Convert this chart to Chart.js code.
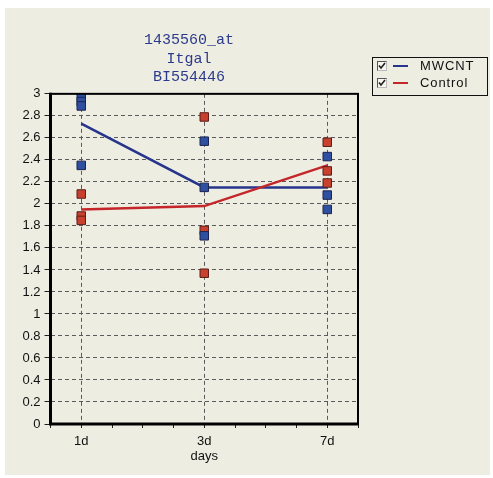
<!DOCTYPE html>
<html>
<head>
<meta charset="utf-8">
<script src="https://cdn.jsdelivr.net/npm/chart.js@4.4.1/dist/chart.umd.min.js"></script>
<style>
  body { margin: 0; background: #fff; width: 493px; height: 478px; position: relative; overflow: hidden; }
  #frame { position: absolute; left: 5px; top: 8px; width: 485px; height: 467px; background: #eeede1; }
  #legend { position: absolute; left: 367px; top: 49px; width: 114px; height: 37px; border: 1px solid #111;
            font: 13px 'Liberation Sans', Arial, sans-serif; color: #111; }
  .row { position: absolute; left: 0; height: 16px; width: 114px; }
  .box { position: absolute; left: 4px; top: 3px; width: 8px; height: 8px; background: #f6f6f0;
         border-left: 1px solid #555; border-top: 1px solid #555; border-right: 1px solid #bbb; border-bottom: 1px solid #bbb; }
  .box svg { position: absolute; left: 0; top: 0; }
  .swatch { position: absolute; left: 20px; top: 7px; width: 15px; height: 2px; }
  .label { position: absolute; left: 47px; top: 0; line-height: 16px; letter-spacing: 0.9px; }
</style>
</head>
<body>
<div id="frame">
  <canvas id="myChart" width="485" height="467"></canvas>
  <div id="legend"></div>
</div>
<script>
// categories on the x axis
var categories = ['1d', '3d', '7d'];
var seriesNames = ['MWCNT', 'Control'];
// individual replicate values per category
var mwcntPoints = [[2.97, 2.93, 2.89, 2.35], [2.57, 2.15, 1.71], [2.43, 2.08, 1.95]];
var controlPoints = [[2.09, 1.89, 1.85], [2.79, 1.76, 1.37], [2.56, 2.30, 2.19]];
// mean lines as drawn
var mwcntMean = [2.73, 2.15, 2.15];
var controlMean = [1.95, 1.98, 2.35];

var blue = '#26348c';
var red = '#c4262a';

function toXY(groups) {
  var out = [];
  groups.forEach(function (g, i) { g.forEach(function (v) { out.push({ x: i, y: v }); }); });
  return out;
}
function meanXY(arr) {
  return arr.map(function (v, i) { return { x: i, y: v }; });
}
function isWhole(v) { return Math.abs(v - Math.round(v)) < 1e-6; }

// legend as html, with the little checkboxes of the original
var legend = document.getElementById('legend');
[[seriesNames[0], blue], [seriesNames[1], red]].forEach(function (s, i) {
  var row = document.createElement('div');
  row.className = 'row';
  row.style.top = (i * 17) + 'px';
  row.innerHTML = '<div class="box"><svg width="8" height="8"><polyline points="1,3.5 3,6 7,1" fill="none" stroke="#222" stroke-width="1.6"/></svg></div>' +
    '<div class="swatch" style="background:' + s[1] + '"></div><div class="label">' + s[0] + '</div>';
  legend.appendChild(row);
});

var frameBorder = {
  id: 'frameBorder',
  afterDatasetsDraw: function (chart) {
    var a = chart.chartArea, ctx = chart.ctx;
    ctx.save();
    ctx.strokeStyle = '#000';
    ctx.lineWidth = 2;
    ctx.strokeRect(a.left, a.top, a.right - a.left, a.bottom - a.top);
    ctx.lineWidth = 3;
    ctx.beginPath();
    ctx.moveTo(a.left, a.top - 1);
    ctx.lineTo(a.left, a.bottom);
    ctx.lineTo(a.right + 1, a.bottom);
    ctx.stroke();
    ctx.restore();
  }
};

var ctx = document.getElementById('myChart').getContext('2d');
var myChart = new Chart(ctx, {
  type: 'scatter',
  data: {
    datasets: [
      { label: 'MWCNT pts', data: toXY(mwcntPoints), pointStyle: 'rect', pointRadius: 6,
        backgroundColor: '#2f4fa0', borderColor: '#1b2450', borderWidth: 1, order: 0 },
      { label: 'Control pts', data: toXY(controlPoints), pointStyle: 'rect', pointRadius: 6,
        backgroundColor: '#c8402e', borderColor: '#5a1f1a', borderWidth: 1, order: 1 },
      { type: 'line', label: 'Control', data: meanXY(controlMean), borderColor: red, borderWidth: 2.5,
        pointRadius: 0, fill: false, order: 2 },
      { type: 'line', label: 'MWCNT', data: meanXY(mwcntMean), borderColor: blue, borderWidth: 2.5,
        pointRadius: 0, fill: false, order: 3 }
    ]
  },
  options: {
    responsive: false,
    animation: false,
    layout: { padding: { left: 15, right: 132, top: 0, bottom: 11 } },
    plugins: {
      legend: { display: false },
      tooltip: { enabled: false },
      title: {
        display: true,
        text: ['1435560_at', 'Itgal', 'BI554446'],
        color: '#2b3a8c',
        font: { family: "'Liberation Mono', monospace", size: 15, weight: 'normal', lineHeight: 1.23 },
        padding: { top: 23, bottom: 7.5 }
      }
    },
    scales: {
      x: {
        type: 'linear', min: -0.25, max: 2.25,
        afterFit: function (s) { s.height = 40; },
        ticks: {
          stepSize: 0.25, autoSkip: false, maxRotation: 0, padding: 6, color: '#111',
          font: { family: "'Liberation Sans', Arial, sans-serif", size: 13 },
          callback: function (v) { return isWhole(v) && v >= 0 && v <= 2 ? categories[Math.round(v)] : ''; }
        },
        grid: {
          tickLength: 4, tickColor: '#222',
          color: function (c) { var v = c.tick ? c.tick.value : -1; return isWhole(v) && v >= 0 && v <= 2 ? '#5a5a5a' : 'rgba(0,0,0,0)'; }
        },
        border: { display: false, dash: [4, 3] },
        title: { display: true, text: 'days', color: '#111', padding: 0,
                 font: { family: "'Liberation Sans', Arial, sans-serif", size: 13 } }
      },
      y: {
        min: 0, max: 3,
        afterFit: function (s) { s.width = 30.5; },
        ticks: {
          stepSize: 0.2, padding: 4, color: '#111',
          font: { family: "'Liberation Sans', Arial, sans-serif", size: 13 },
          callback: function (v) { return String(+v.toFixed(1)); }
        },
        grid: {
          tickLength: 6, tickColor: '#222',
          color: function (c) { var v = c.tick ? c.tick.value : 0; return v > 0.01 && v < 2.99 ? '#5a5a5a' : 'rgba(0,0,0,0)'; }
        },
        border: { display: false, dash: [4, 3] }
      }
    }
  },
  plugins: [frameBorder]
});
</script>
</body>
</html>
